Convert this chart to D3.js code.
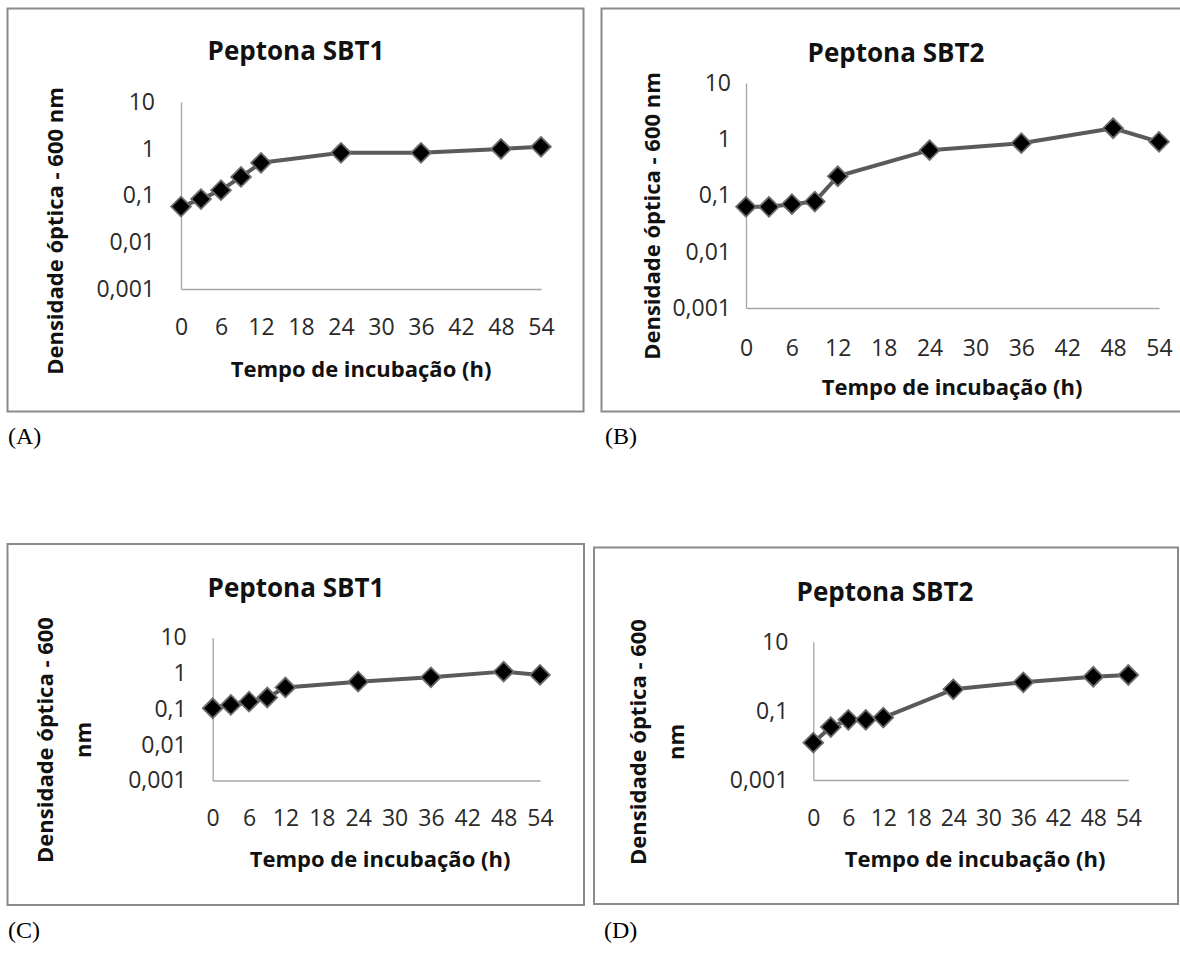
<!DOCTYPE html>
<html>
<head>
<meta charset="utf-8">
<script src="https://cdn.jsdelivr.net/npm/d3@7"></script>
<style>
  html, body { margin: 0; padding: 0; background: #fff; }
  svg { display: block; }
</style>
</head>
<body>
<div id="chart"></div>
<script>
(function () {
  "use strict";

  // horas de incubacao (comuns aos 4 graficos)
  var hours = [0, 3, 6, 9, 12, 24, 36, 48, 54];
  var xTicks = [0, 6, 12, 18, 24, 30, 36, 42, 48, 54];
  var yTicksFull = [0.001, 0.01, 0.1, 1, 10];
  var yTicksSparse = [0.001, 0.1, 10];

  // densidade optica
  var odA = [0.058, 0.084, 0.13, 0.25, 0.50, 0.82, 0.82, 0.99, 1.1];
  var odB = [0.063, 0.063, 0.070, 0.078, 0.22, 0.64, 0.85, 1.57, 0.90];
  var odC = [0.105, 0.13, 0.16, 0.21, 0.40, 0.58, 0.77, 1.11, 0.90];
  var odD = [0.012, 0.034, 0.055, 0.055, 0.064, 0.42, 0.67, 0.97, 1.09];

  var titles = ["Peptona SBT1", "Peptona SBT2", "Peptona SBT1", "Peptona SBT2"];
  var captions = ["(A)", "(B)", "(C)", "(D)"];

  var W = 1180, H = 958;
  var FONT = "'Open Sans', Lato, sans-serif";
  var ptBR = d3.formatLocale({ decimal: ",", thousands: ".", grouping: [3], currency: ["R$", ""] });
  var fmtY = ptBR.format("~g");

  var panels = [
    { values: odA, yTicks: yTicksFull, frame: [7.5, 8.5, 583.5, 411.5], x0: 181, x1: 541, yTop: 102, yBot: 289,
      yPad: 26, xPad: 30, title: [296, 50], xTitle: [361, 368], yTitle: [54, 231], yLines: ["Densidade óptica -  600 nm"],
      caption: [8, 436] },
    { values: odB, yTicks: yTicksFull, frame: [601.5, 8.5, 1181, 411.5], x0: 746, x1: 1159, yTop: 83, yBot: 308,
      yPad: 15, xPad: 32, title: [896, 52], xTitle: [952, 386], yTitle: [651, 216], yLines: ["Densidade óptica - 600 nm"],
      caption: [605, 436] },
    { values: odC, yTicks: yTicksFull, frame: [7.5, 544, 584, 905], x0: 212.7, x1: 540, yTop: 637.5, yBot: 780.5,
      yPad: 26, xPad: 29, title: [296, 587], xTitle: [380, 858], yTitle: [63, 740], yLines: ["Densidade óptica - 600", "nm"],
      caption: [8, 930] },
    { values: odD, yTicks: yTicksSparse, frame: [594, 547.5, 1178, 904], x0: 813.3, x1: 1128.3, yTop: 641.7, yBot: 780,
      yPad: 25, xPad: 30, title: [885, 591], xTitle: [975, 858], yTitle: [656, 742], yLines: ["Densidade óptica - 600", "nm"],
      caption: [604, 930] }
  ];

  var svg = d3.select("#chart").append("svg")
    .attr("width", W)
    .attr("height", H)
    .attr("viewBox", [0, 0, W, H]);

  var diamond = d3.symbol().type(d3.symbolSquare).size(195);

  panels.forEach(function (p, i) {
    var g = svg.append("g").attr("class", "panel");
    var f = p.frame;

    g.append("rect")
      .attr("x", f[0]).attr("y", f[1])
      .attr("width", f[2] - f[0]).attr("height", f[3] - f[1])
      .attr("fill", "#fff")
      .attr("stroke", "#8a8a8a")
      .attr("stroke-width", 2);

    var x = d3.scaleLinear().domain([0, 54]).range([p.x0, p.x1]);
    var y = d3.scaleLog().domain([0.001, 10]).range([p.yBot, p.yTop]);

    var yAxis = g.append("g")
      .attr("transform", "translate(" + p.x0 + ",0)")
      .call(d3.axisLeft(y).tickValues(p.yTicks).tickFormat(fmtY).tickSize(0).tickPadding(p.yPad));
    var xAxis = g.append("g")
      .attr("transform", "translate(0," + p.yBot + ")")
      .call(d3.axisBottom(x).tickValues(xTicks).tickSize(0).tickPadding(p.xPad));

    [yAxis, xAxis].forEach(function (ax) {
      ax.select(".domain").attr("stroke", "#a6a6a6").attr("stroke-width", 1.3);
      ax.selectAll("text")
        .attr("fill", "#2a2a2a")
        .style("font-family", FONT)
        .style("font-size", "23px");
    });

    var line = d3.line()
      .x(function (d, k) { return x(hours[k]); })
      .y(function (d) { return y(d); });

    g.append("path")
      .datum(p.values)
      .attr("d", line)
      .attr("fill", "none")
      .attr("stroke", "#5a5a5a")
      .attr("stroke-width", 4)
      .attr("stroke-linejoin", "round");

    g.selectAll("path.marker")
      .data(p.values)
      .join("path")
      .attr("class", "marker")
      .attr("d", diamond)
      .attr("transform", function (d, k) {
        return "translate(" + x(hours[k]) + "," + y(d) + ") rotate(45)";
      })
      .attr("fill", "#000")
      .attr("stroke", "#6b6b6b")
      .attr("stroke-width", 1.8);

    g.append("text")
      .attr("x", p.title[0]).attr("y", p.title[1])
      .attr("text-anchor", "middle")
      .attr("dominant-baseline", "central")
      .style("font-family", FONT)
      .style("font-weight", "bold")
      .style("font-size", "26px")
      .attr("fill", "#111")
      .text(titles[i]);

    g.append("text")
      .attr("x", p.xTitle[0]).attr("y", p.xTitle[1])
      .attr("text-anchor", "middle")
      .attr("dominant-baseline", "central")
      .style("font-family", FONT)
      .style("font-weight", "bold")
      .style("font-size", "22px")
      .attr("fill", "#111")
      .text("Tempo de incubação (h)");

    var yt = g.append("text")
      .attr("transform", "translate(" + p.yTitle[0] + "," + p.yTitle[1] + ") rotate(-90)")
      .attr("text-anchor", "middle")
      .style("font-family", FONT)
      .style("font-weight", "bold")
      .style("font-size", "22px")
      .attr("fill", "#111");
    var n = p.yLines.length;
    p.yLines.forEach(function (s, k) {
      yt.append("tspan")
        .attr("x", 0)
        .attr("y", (k - (n - 1) / 2) * 38)
        .attr("dominant-baseline", "central")
        .text(s);
    });

    svg.append("text")
      .attr("x", p.caption[0]).attr("y", p.caption[1])
      .attr("dominant-baseline", "central")
      .style("font-family", "'Liberation Serif', 'Times New Roman', serif")
      .style("font-size", "24px")
      .attr("fill", "#000")
      .text(captions[i]);
  });
})();
</script>
</body>
</html>
